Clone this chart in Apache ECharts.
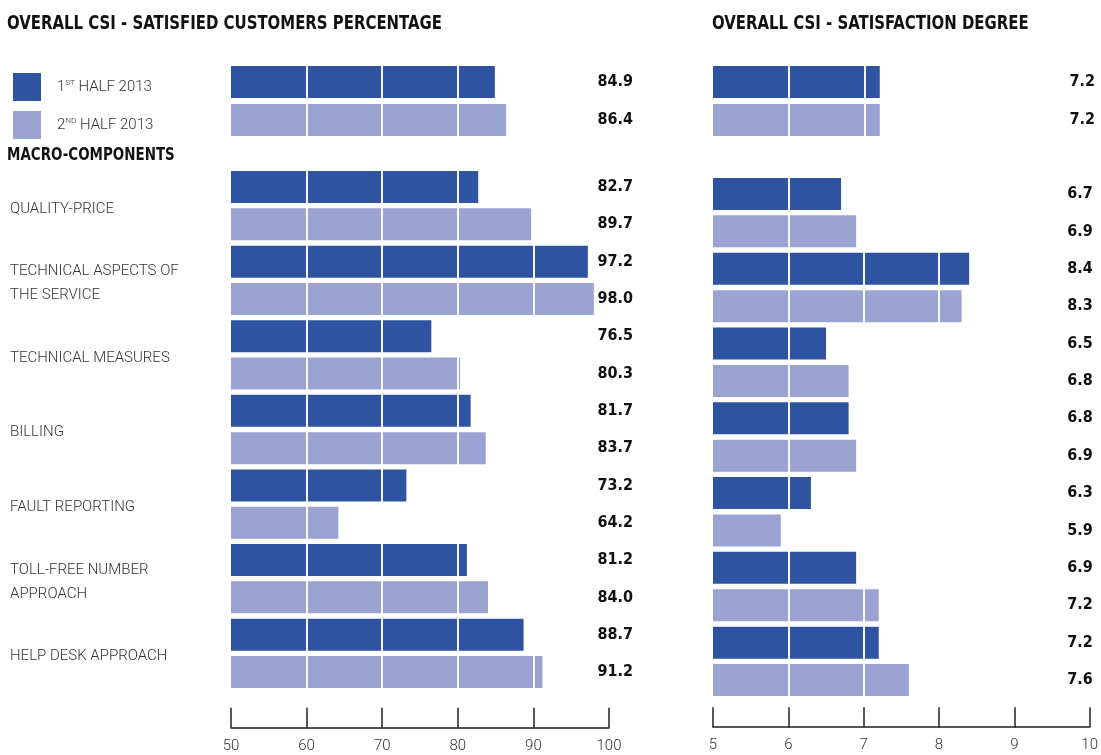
<!DOCTYPE html>
<html>
<head>
<meta charset="utf-8">
<title>Overall CSI</title>
<script src="https://cdn.jsdelivr.net/npm/echarts@6/dist/echarts.min.js"></script>
<style>
  html, body { margin: 0; padding: 0; background: #fff; }
  #main { width: 1101px; height: 755px; }
</style>
</head>
<body>
<div id="main"></div>
<script>
// data
var halves = ['1ST HALF 2013', '2ND HALF 2013'];
var components = ['QUALITY-PRICE', 'TECHNICAL ASPECTS OF\nTHE SERVICE', 'TECHNICAL MEASURES', 'BILLING',
    'FAULT REPORTING', 'TOLL-FREE NUMBER\nAPPROACH', 'HELP DESK APPROACH'];
var overallPct = [84.9, 86.4];
var pct1 = [82.7, 97.2, 76.5, 81.7, 73.2, 81.2, 88.7];
var pct2 = [89.7, 98.0, 80.3, 83.7, 64.2, 84.0, 91.2];
var overallDeg = [7.2, 7.2];
var deg1 = [6.7, 8.4, 6.5, 6.8, 6.3, 6.9, 7.2];
var deg2 = [6.9, 8.3, 6.8, 6.9, 5.9, 7.2, 7.6];
var pctTicks = [60, 70, 80, 90];
var degTicks = [6, 7, 8, 9];

var dark = '#2E53A0';
var light = '#9BA3D2';
var boldFont = '"DejaVu Sans Condensed", "Liberation Sans", sans-serif';
var thinFont = 'Roboto';

var myChart = echarts.init(document.getElementById('main'));

function pairs(a, b) {
    var out = [];
    for (var i = 0; i < a.length; i++) {
        out.push(a[i].toFixed(1));
        out.push(b[i].toFixed(1));
    }
    return out;
}

function hiddenY(grid, n) {
    var d = [];
    for (var i = 0; i < n; i++) d.push('c' + i);
    return {
        type: 'category', gridIndex: grid, inverse: true, position: 'left', data: d,
        axisLine: {show: false}, axisTick: {show: false}, axisLabel: {show: false}
    };
}

function valueY(grid, labels, margin) {
    return {
        type: 'category', gridIndex: grid, inverse: true, position: 'right', data: labels,
        axisLine: {show: false}, axisTick: {show: false},
        axisLabel: {
            align: 'right', margin: margin, color: '#111',
            fontFamily: boldFont, fontWeight: 'bold', fontSize: 16
        }
    };
}

function xAxisOf(grid, min, max, interval, shown, offset) {
    return {
        type: 'value', gridIndex: grid, min: min, max: max, interval: interval, show: shown, offset: offset,
        splitLine: {show: false},
        axisLine: {show: true, lineStyle: {color: '#222', width: 1.5}},
        axisTick: {show: true, inside: true, length: 20, lineStyle: {color: '#222', width: 1.5}},
        axisLabel: {margin: 11, color: '#333', fontFamily: thinFont, fontWeight: 300, fontSize: 15}
    };
}

function barSeries(name, color, xi, yi, data, gap, ticks) {
    var s = {
        name: name, type: 'bar', xAxisIndex: xi, yAxisIndex: yi, data: data,
        barWidth: 32, barGap: gap, itemStyle: {color: color}
    };
    if (ticks) {
        // white cuts across the bars at each tick
        s.markLine = {
            silent: true, symbol: ['none', 'none'], label: {show: false}, animation: false,
            lineStyle: {color: '#fff', width: 2, type: 'solid', opacity: 0.95},
            data: ticks.map(function (v) { return {xAxis: v}; })
        };
    }
    return s;
}

// condensed heading, squeezed horizontally
function heading(text, left, top, size) {
    return {
        type: 'text', left: left, top: top, scaleX: 0.83,
        style: {text: text, fill: '#111', font: 'bold ' + size + 'px ' + boldFont}
    };
}

var option = {
    animation: false,
    backgroundColor: '#fff',
    graphic: [
        heading('OVERALL CSI - SATISFIED CUSTOMERS PERCENTAGE', 7, 14, 20),
        heading('OVERALL CSI - SATISFACTION DEGREE', 712, 14, 20),
        heading('MACRO-COMPONENTS', 7, 146, 18)
    ],
    legend: {
        data: halves, orient: 'vertical', left: 8, top: 68, itemWidth: 28, itemHeight: 28, itemGap: 10,
        icon: 'rect', selectedMode: false,
        formatter: function (name) {
            return name.charAt(0) + '{sup|' + name.slice(1, name.indexOf(' ')) + '}' + name.slice(name.indexOf(' '));
        },
        textStyle: {
            color: '#333', fontFamily: thinFont, fontWeight: 300, fontSize: 15, padding: [0, 0, 0, 11],
            rich: {sup: {fontFamily: thinFont, fontWeight: 300, fontSize: 8, color: '#333', padding: [0, 0, 8, 0]}}
        }
    },
    grid: [
        {left: 231, width: 378, top: 63, height: 76},
        {left: 231, width: 378, top: 168.35, height: 522.3},
        {left: 713, width: 379, top: 63, height: 76},
        {left: 713, width: 379, top: 175.3, height: 523.4},
        {left: 231, width: 378, top: 171.5, height: 522.3}
    ],
    xAxis: [
        xAxisOf(0, 50, 100, 10, false, 0),
        xAxisOf(1, 50, 100, 10, true, 37),
        xAxisOf(2, 5, 10, 1, false, 0),
        xAxisOf(3, 5, 10, 1, true, 28.5),
        xAxisOf(4, 50, 100, 10, false, 0)
    ],
    yAxis: [
        hiddenY(0, 1),
        valueY(0, overallPct.map(function (v) { return v.toFixed(1); }), 24),
        hiddenY(1, 7),
        valueY(1, pairs(pct1, pct2), 24),
        hiddenY(2, 1),
        valueY(2, overallDeg.map(function (v) { return v.toFixed(1); }), 3),
        hiddenY(3, 7),
        valueY(3, pairs(deg1, deg2), 3),
        {
            type: 'category', gridIndex: 4, inverse: true, position: 'left', data: components,
            axisLine: {show: false}, axisTick: {show: false},
            axisLabel: {
                align: 'left', margin: 221, color: '#333',
                fontFamily: thinFont, fontWeight: 300, fontSize: 15, lineHeight: 24
            }
        }
    ],
    series: [
        barSeries(halves[0], dark, 0, 0, [overallPct[0]], '18.75%', null),
        barSeries(halves[1], light, 0, 0, [overallPct[1]], '18.75%', pctTicks),
        barSeries(halves[0], dark, 1, 2, pct1, '16.5%', null),
        barSeries(halves[1], light, 1, 2, pct2, '16.5%', pctTicks),
        barSeries(halves[0], dark, 2, 4, [overallDeg[0]], '18.75%', null),
        barSeries(halves[1], light, 2, 4, [overallDeg[1]], '18.75%', degTicks),
        barSeries(halves[0], dark, 3, 6, deg1, '16.8%', null),
        barSeries(halves[1], light, 3, 6, deg2, '16.8%', degTicks)
    ]
};

myChart.setOption(option);
</script>
</body>
</html>
